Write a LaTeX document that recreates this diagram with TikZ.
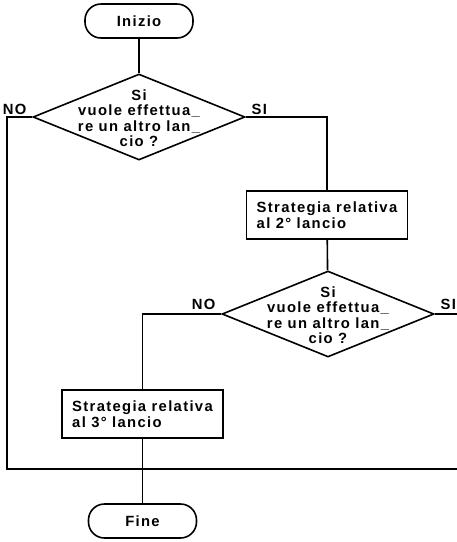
\documentclass[tikz,border=0pt]{standalone}
\usepackage{fontspec}
\usepackage{tikz}
\usetikzlibrary{shapes.geometric,positioning}
\newfontfamily\flowfont{Liberation Sans}[LetterSpace=9]

\begin{document}
\begin{tikzpicture}[x=1pt, y=-1pt, line width=1.6pt,
  every node/.style={font=\flowfont\bfseries\fontsize{14.8}{15.5}\selectfont},
  terminal/.style={draw, rectangle, rounded corners=16pt, minimum width=108pt, minimum height=34pt, inner sep=0pt},
  decision/.style={draw, diamond, minimum width=212pt, minimum height=86pt, inner sep=0pt},
  process/.style={draw, rectangle, minimum width=161pt, minimum height=48pt, inner sep=0pt, align=left},
  answer/.style={inner sep=1pt}]%
\useasboundingbox (0, 0) rectangle (457, 542);%
\node[terminal] (inizio) at (139, 21) {Inizio};%
\node[decision] (q1) at (139, 117) {};%
\node[align=center] (q1txt) at (139, 118) {Si\\vuole effettua\_\\re un altro lan\_\\cio ?};%
\node[answer, above left=1pt and 4pt of q1.west] (no1) {NO};%
\node[answer, above right=1pt and 4pt of q1.east] (si1) {SI};%
\node[process] (s2) at (327, 215) {Strategia relativa\\al 2° lancio};%
\node[decision] (q2) at (328, 314) {};%
\node[align=center] (q2txt) at (328, 315) {Si\\vuole effettua\_\\re un altro lan\_\\cio ?};%
\node[answer, above left=3pt and 4pt of q2.west] (no2) {NO};%
\node[answer, above right=3pt and 4pt of q2.east] (si2) {SI};%
\node[process] (s3) at (142.5, 414) {Strategia relativa\\al 3° lancio};%
\node[terminal] (fine) at (142.5, 521) {Fine};%
\coordinate (lb) at (7, 469);%
\coordinate (rb) at (457, 469);%
\coordinate (re) at (457, 314);%
\draw (inizio) -- (q1);%
\draw (q1.east) -| (s2);%
\draw (s2) -- (q2);%
\draw (q2.west) -| (s3);%
\draw (q2.east) -- (re);%
\draw (q1.west) -| (lb) -- (rb);%
\draw (s3) -- (fine);%
\end{tikzpicture}
\end{document}
